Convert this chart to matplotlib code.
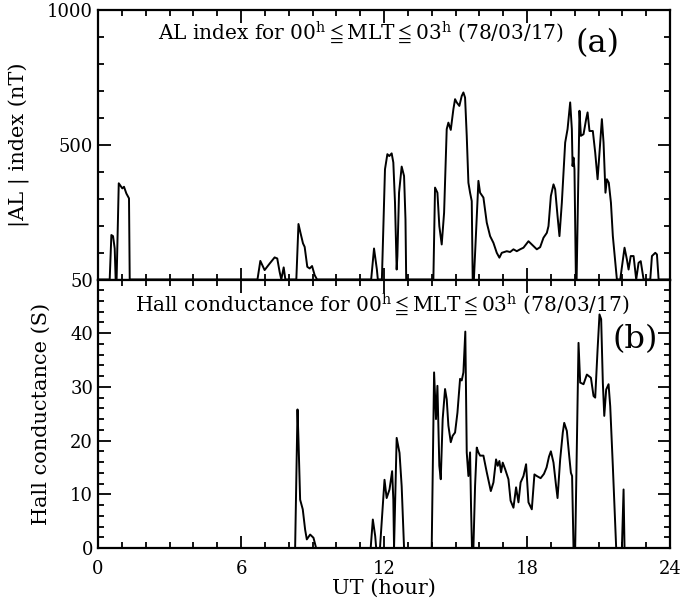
import matplotlib
matplotlib.use('Agg')
import matplotlib.pyplot as plt
from matplotlib.ticker import MultipleLocator

# |AL| index, 00h <= MLT <= 03h, 1978-03-17
al_hours = [0.0, 0.49, 0.56, 0.63, 0.70, 0.74, 0.78, 0.87, 0.95, 1.02, 1.09,
            1.19, 1.26, 1.30, 1.33,
            6.69, 6.81, 6.99, 7.20, 7.41, 7.52, 7.62, 7.69, 7.79, 7.86,
            8.32, 8.41, 8.50, 8.60, 8.67, 8.78, 8.88, 8.98, 9.09, 9.19,
            11.46, 11.58, 11.70, 11.74,
            11.91, 12.04, 12.14, 12.22, 12.32, 12.39, 12.46, 12.53, 12.56,
            12.63, 12.74, 12.84, 12.90, 12.93,
            14.07, 14.14, 14.24, 14.32, 14.42, 14.52, 14.63, 14.70, 14.80,
            14.91, 14.98, 15.05, 15.16, 15.26, 15.33, 15.40, 15.47, 15.54,
            15.61, 15.68, 15.72, 15.77, 15.96, 16.03, 16.17, 16.31, 16.45,
            16.59, 16.73, 16.84, 16.94, 17.15, 17.29, 17.43, 17.57, 17.71,
            17.85, 18.06, 18.20, 18.41, 18.55, 18.69, 18.83, 18.90, 19.00,
            19.11, 19.18, 19.28, 19.36, 19.46, 19.60, 19.70, 19.81, 19.88,
            19.91, 19.95, 19.99, 20.05, 20.08, 20.20, 20.26, 20.37, 20.48,
            20.54, 20.62, 20.76, 20.86, 20.96, 21.04, 21.14, 21.21, 21.29,
            21.35, 21.43, 21.52, 21.60, 21.77, 21.91, 22.09, 22.19, 22.26,
            22.35, 22.47, 22.58, 22.68, 22.77, 22.89, 23.17, 23.24, 23.38,
            23.45, 23.52, 24.0]
al_values = [0, 0, 165, 161, 115, 0, 0, 357, 347, 338, 344,
             319, 307, 301, 0,
             0, 69, 35, 59, 82, 78, 28, 0, 45, 0,
             0, 206, 171, 134, 121, 47, 41, 50, 16, 0,
             0, 115, 37, 0,
             0, 409, 465, 458, 468, 434, 285, 37, 87,
             322, 419, 384, 223, 0,
             0, 341, 322, 198, 130, 248, 558, 582, 555,
             632, 669, 657, 644, 681, 694, 675, 533, 359,
             322, 291, 0, 0, 366, 322, 304, 211, 161,
             136, 99, 81, 99, 105, 102, 112, 105, 112,
             118, 142, 130, 112, 120, 155, 173, 198, 310,
             353, 335, 235, 161, 285, 508, 558, 657, 558,
             421, 452, 409, 0, 0, 626, 533, 539, 595,
             620, 551, 551, 471, 372, 471, 595, 508, 322,
             372, 359, 285, 161, 0, 0, 118, 74, 37,
             87, 87, 0, 62, 68, 0, 0, 87, 99,
             93, 0, 0]

# Hall conductance, 00h <= MLT <= 03h, 1978-03-17
hall_hours = [0.0, 8.27, 8.37, 8.41, 8.48, 8.59, 8.69, 8.76, 8.90, 9.04, 9.15,
              11.44, 11.53, 11.63, 11.67,
              11.83, 12.02, 12.11, 12.23, 12.34, 12.39, 12.42, 12.53, 12.65,
              12.74, 12.84,
              14.00, 14.10, 14.18, 14.24, 14.32, 14.38, 14.46, 14.56, 14.63,
              14.70, 14.80, 14.88, 14.98, 15.08, 15.19, 15.26, 15.33, 15.41,
              15.47, 15.54, 15.61, 15.65, 15.69, 15.75, 15.82, 15.89, 15.96,
              16.03, 16.17, 16.31, 16.48, 16.59, 16.70, 16.77, 16.84, 16.91,
              16.98, 17.08, 17.22, 17.31, 17.43, 17.54, 17.64, 17.73, 17.85,
              17.96, 18.06, 18.20, 18.31, 18.41, 18.57, 18.71, 18.82, 18.92,
              19.00, 19.11, 19.22, 19.28, 19.39, 19.50, 19.56, 19.67, 19.77,
              19.84, 19.89, 19.95, 20.02, 20.16, 20.23, 20.37, 20.51, 20.68,
              20.79, 20.86, 20.96, 21.04, 21.11, 21.18, 21.24, 21.32, 21.42,
              21.49, 21.60, 21.74, 21.98, 22.05, 22.09, 24.0]
hall_values = [0, 0, 25.8, 20.2, 9.0, 7.2, 3.4, 1.6, 2.5, 1.9, 0,
               0, 5.3, 2.2, 0,
               0, 12.7, 9.3, 10.9, 14.3, 9.0, 0, 20.5, 17.7,
               11.5, 0,
               0, 32.7, 24.0, 30.2, 15.3, 12.8, 24.0, 29.6, 27.7,
               22.8, 19.7, 20.9, 21.5, 25.2, 31.5, 31.2, 32.7, 40.3,
               17.8, 13.4, 17.8, 7.8, 0, 0, 11.6, 18.7, 17.8,
               17.2, 17.2, 14.1, 10.6, 12.2, 16.5, 15.3, 16.2, 14.1,
               15.9, 14.7, 12.8, 8.8, 7.5, 11.3, 8.5, 12.2, 13.4,
               15.6, 8.5, 7.2, 13.7, 13.4, 13.0, 13.8, 15.0, 17.0,
               18.0, 15.9, 11.5, 9.3, 16.5, 21.5, 23.3, 21.8, 17.1,
               14.0, 13.4, 0, 0, 38.2, 30.8, 30.5, 32.3, 31.7,
               28.3, 28.0, 37.0, 43.5, 42.6, 30.8, 24.6, 29.5, 30.5,
               26.4, 15.2, 0, 0, 10.9, 0, 0]

x_ticks = [0, 6, 12, 18, 24]

plt.rcParams['font.family'] = 'DejaVu Serif'
plt.rcParams['mathtext.fontset'] = 'dejavuserif'
plt.rcParams['font.size'] = 13


def style_axis(ax):
    ax.set_xlim(0, 24)
    ax.xaxis.set_minor_locator(MultipleLocator(1))
    ax.tick_params(which='both', direction='in', top=True, right=True,
                   width=1.3, labelsize=13)
    ax.tick_params(which='major', length=9)
    ax.tick_params(which='minor', length=4)
    ax.tick_params(axis='x', which='major', pad=9)
    for s in ax.spines.values():
        s.set_linewidth(1.6)


fig = plt.figure(figsize=(6.84, 6.12), dpi=100)
ax1 = fig.add_axes([0.1433, 0.5433, 0.8363, 0.4404])
ax2 = fig.add_axes([0.1433, 0.1046, 0.8363, 0.4387])

ax1.plot(al_hours, al_values, color='black', lw=1.4)
style_axis(ax1)
ax1.set_ylim(0, 1000)
ax1.set_yticks([500, 1000])
ax1.yaxis.set_minor_locator(MultipleLocator(100))
ax1.set_xticks(x_ticks)
ax1.set_xticklabels([])
ax1.set_ylabel('|AL | index (nT)', fontsize=15)
ax1.yaxis.set_label_coords(-0.119, 0.5)
ax1.text(0.105, 0.914,
         r'AL index for 00$^{\rm h}\leqq$MLT$\leqq$03$^{\rm h}$ (78/03/17)',
         transform=ax1.transAxes, va='center', ha='left', fontsize=14.5)
ax1.text(0.834, 0.877, '(a)', transform=ax1.transAxes,
         va='center', ha='left', fontsize=23)

ax2.plot(hall_hours, hall_values, color='black', lw=1.4)
style_axis(ax2)
ax2.set_ylim(0, 50)
ax2.set_yticks([0, 10, 20, 30, 40, 50])
ax2.yaxis.set_minor_locator(MultipleLocator(2))
ax2.set_xticks(x_ticks)
ax2.set_xlabel('UT (hour)', fontsize=15, labelpad=0)
ax2.set_ylabel('Hall conductance (S)', fontsize=15)
ax2.yaxis.set_label_coords(-0.082, 0.5)
ax2.text(0.0647, 0.907,
         r'Hall conductance for 00$^{\rm h}\leqq$MLT$\leqq$03$^{\rm h}$ (78/03/17)',
         transform=ax2.transAxes, va='center', ha='left', fontsize=14.5)
ax2.text(0.900, 0.776, '(b)', transform=ax2.transAxes,
         va='center', ha='left', fontsize=23)

fig.savefig('out.png', dpi=100)
